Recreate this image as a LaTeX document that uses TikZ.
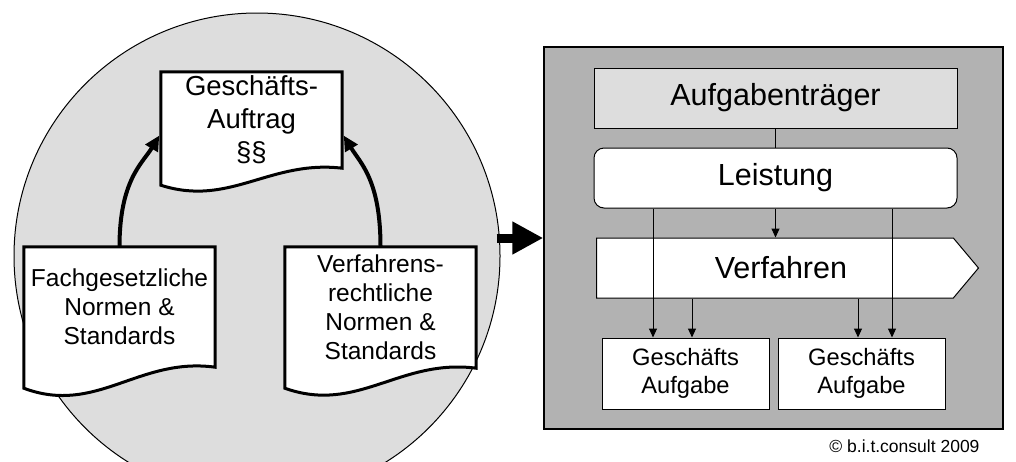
\documentclass[tikz,border=0pt]{standalone}
\usepackage{fontspec}
\setmainfont{Liberation Sans}
\usetikzlibrary{shapes.symbols,arrows.meta,calc}

\definecolor{kreisgrau}{HTML}{DDDDDD}
\definecolor{feldgrau}{HTML}{B2B2B2}

\pgfdeclarelayer{hinten}
\pgfdeclarelayer{mitte}
\pgfsetlayers{hinten,mitte,main}

%outline of a document: #1 node, #2 drop of the lower left corner
\newcommand{\dokument}[2]{%
	\begin{pgfonlayer}{mitte}
	\draw[dokrand] ([yshift=-#2pt]#1.south west) -- (#1.north west) -- (#1.north east) -- (#1.south east)
		.. controls ($(#1.south west)!0.6!(#1.south east)+(0pt,{0.5*#2pt})$)
		and ($(#1.south west)!0.38!(#1.south east)+(0pt,{-2.3*#2pt})$) .. ([yshift=-#2pt]#1.south west) -- cycle;
	\end{pgfonlayer}
}

\begin{document}
\begin{tikzpicture}[x=1pt,y=-1pt,
	dokrand/.style={draw,fill=white,line width=3pt,line join=miter},
	dok/.style={inner sep=0pt,align=center,font=\fontsize{24.5pt}{29pt}\selectfont},
	pfeilbogen/.style={line width=4pt,shorten >=3pt,-{Triangle[length=15pt,width=14pt]}},
	kasten/.style={draw,line width=1pt,minimum width=363pt,minimum height=60pt,font=\fontsize{30.5pt}{36pt}\selectfont},
	aufgabe/.style={draw,fill=white,line width=1pt,minimum width=167pt,minimum height=71pt,align=center,font=\fontsize{23.7pt}{28pt}\selectfont},
	duenn/.style={line width=1pt,-{Triangle[length=9pt,width=8pt]}}]
	\useasboundingbox (0,0) rectangle (1016,461);
	
	%CIRCLE
	\begin{pgfonlayer}{hinten}
	\node[circle,draw,fill=kreisgrau,line width=1pt,minimum size=486pt,inner sep=0pt] (kreis) at (257,256) {};
	\end{pgfonlayer}
	
	%DOCUMENTS
	\node[dok,font=\fontsize{27.5pt}{33pt}\selectfont,minimum width=181pt,minimum height=96pt] (auftrag) at (251.5,120) {Geschäfts-\\Auftrag\\§§};
	\node[dok,minimum width=191pt,minimum height=120pt] (fach) at (119.5,307) {Fachgesetzliche\\Normen \&\\Standards};
	\node[dok,minimum width=191pt,minimum height=121pt] (verf) at (380.5,307.5) {Verfahrens-\\rechtliche\\Normen \&\\Standards};
	\dokument{auftrag}{17}
	\dokument{fach}{21}
	\dokument{verf}{20}
	
	\draw[pfeilbogen] (fach.north) .. controls +(0,-67) and +(-18,30) .. ([yshift=-13pt]auftrag.west);
	\draw[pfeilbogen] (verf.north) .. controls +(0,-67) and +(18,30) .. ([yshift=-13pt]auftrag.east);
	
	%PANEL
	\node[draw,fill=feldgrau,line width=1.5pt,minimum width=459pt,minimum height=382pt,inner sep=0pt] (feld) at (773.5,238) {};
	\draw[line width=9pt,-{Triangle[length=31pt,width=31pt]}] ([xshift=-4pt]kreis.east |- feld.west) -- (feld.west);
	
	\node[kasten,fill=kreisgrau] (traeger) at (775.5,98) {Aufgabenträger};
	\node[kasten,fill=white,rounded corners=10pt] (leistung) at (775.5,178) {Leistung};
	\node[kasten,signal,signal to=east,signal pointer angle=100,minimum width=382pt,fill=white,anchor=west] (verfahren) at (596,268) {\hspace{12pt}Verfahren};
	\foreach \n/\x in {1/685.5,2/861.5}
		\node[aufgabe] (aufgabe\n) at (\x,373.5) {Geschäfts\\Aufgabe};
	
	%CONNECTIONS
	\draw[line width=1pt] (traeger) -- (leistung);
	\draw[duenn] (leistung.south) -- (leistung.south |- verfahren.north);
	\coordinate (l1) at ([xshift=-122.5pt]leistung.south);
	\coordinate (l2) at ([xshift=116.5pt]leistung.south);
	\coordinate (v1) at ([xshift=6.5pt]aufgabe1.north);
	\coordinate (v2) at ([xshift=-3.5pt]aufgabe2.north);
	\foreach \n in {1,2}{
		\draw[duenn] (l\n) -- (l\n |- aufgabe\n.north);
		\draw[duenn] (v\n |- verfahren.south) -- (v\n);
	}
	
	\node[anchor=base east,font=\fontsize{17.5pt}{20pt}\selectfont] (copy) at (983,452) {© b.i.t.consult 2009};
\end{tikzpicture}
\end{document}
